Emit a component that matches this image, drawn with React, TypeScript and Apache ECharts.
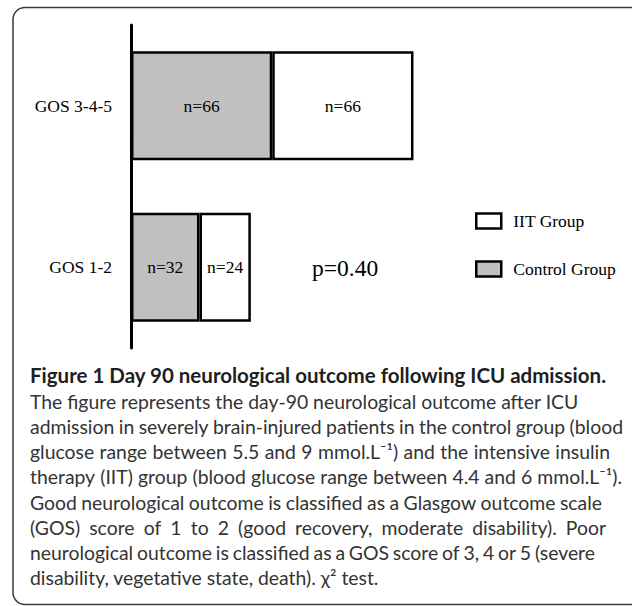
import React, { useEffect, useRef } from 'react';
import * as echarts from 'echarts';

// ---- data ----
const categories = ['GOS 1-2', 'GOS 3-4-5'];
const controlValues = [32, 66];
const iitValues = [24, 66];
const controlName = 'Control Group';
const iitName = 'IIT Group';
const legendOrder = [iitName, controlName];
const pValueText = 'p=0.40';
const captionTitle = 'Figure 1 Day 90 neurological outcome following ICU admission.';
const captionLines = [
  'The figure represents the day-90 neurological outcome after ICU',
  'admission in severely brain-injured patients in the control group (blood',
  'glucose range between 5.5 and 9 mmol.L\u207B\u00B9) and the intensive insulin',
  'therapy (IIT) group (blood glucose range between 4.4 and 6 mmol.L\u207B\u00B9).',
  'Good neurological outcome is classified as a Glasgow outcome scale',
  '(GOS) score of 1 to 2 (good recovery, moderate disability). Poor',
  'neurological outcome is classified as a GOS score of 3, 4 or 5 (severe',
  'disability, vegetative state, death). \u03C7\u00B2 test.',
];

// ---- layout (not data) ----
const SERIF = '"Liberation Serif", "Times New Roman", serif';
const SANS = 'Lato, "Open Sans", sans-serif';
const CAP_X = 30;
const lineRightEnds = [579, 623, 610, 622, 602, 606, 595, 0];
const justified = [false, true, true, true, true, true, true, false];

function buildCaption(): any[] {
  const canvas = document.createElement('canvas');
  const ctx = canvas.getContext('2d')!;
  const measure = (t: string, font: string) => {
    ctx.font = font;
    return ctx.measureText(t).width;
  };
  const titleSize = (16 * 577) / measure(captionTitle, `bold 16px ${SANS}`);
  const bodySize = (16 * 549) / measure(captionLines[0], `16px ${SANS}`);
  const bodyFont = `${bodySize}px ${SANS}`;
  const els: any[] = [];
  els.push({
    type: 'text',
    x: CAP_X,
    y: 375,
    style: {
      text: captionTitle,
      fontSize: titleSize,
      fontFamily: SANS,
      fontWeight: 'bold',
      fill: '#1e1e1e',
      align: 'left',
      verticalAlign: 'middle',
    },
  });
  captionLines.forEach((line, i) => {
    const y = 382 + (i + 1) * 25.2 - 6;
    if (!justified[i]) {
      els.push({
        type: 'text',
        x: CAP_X,
        y,
        style: { text: line, fontSize: bodySize, fontFamily: SANS, fill: '#333', align: 'left', verticalAlign: 'middle' },
      });
      return;
    }
    const words = line.split(' ');
    const widths = words.map((w) => measure(w, bodyFont));
    const total = widths.reduce((a, b) => a + b, 0);
    const gap = (lineRightEnds[i] - CAP_X - total) / (words.length - 1);
    let x = CAP_X;
    words.forEach((w, j) => {
      els.push({
        type: 'text',
        x,
        y,
        style: { text: w, fontSize: bodySize, fontFamily: SANS, fill: '#333', align: 'left', verticalAlign: 'middle' },
      });
      x += widths[j] + gap;
    });
  });
  return els;
}

export default function App() {
  const ref = useRef<HTMLDivElement>(null);
  useEffect(() => {
    if (!ref.current) return;
    const chart = echarts.init(ref.current, undefined, { renderer: 'svg' });
    const labelStyle = {
      show: true,
      position: 'inside',
      formatter: 'n={c}',
      fontSize: 17.5,
      fontFamily: SERIF,
      color: '#000',
      textBorderWidth: 0,
    };
    chart.setOption({
      animation: false,
      backgroundColor: '#fff',
      grid: { left: 131, top: 25, height: 323, width: 428 },
      xAxis: { type: 'value', min: 0, max: 200, show: false },
      yAxis: {
        type: 'category',
        data: categories,
        axisLine: { show: true, lineStyle: { color: '#000', width: 3 } },
        axisTick: { show: false },
        axisLabel: { fontSize: 17.5, fontFamily: SERIF, color: '#000', margin: 19 },
        splitLine: { show: false },
      },
      legend: {
        data: legendOrder,
        orient: 'vertical',
        left: 475,
        top: 212,
        padding: 0,
        itemWidth: 25,
        itemHeight: 15,
        itemGap: 30,
        icon: 'rect',
        selectedMode: false,
        textStyle: { fontSize: 17.5, fontFamily: SERIF, color: '#000', padding: [0, 0, 0, 7] },
        itemStyle: { borderWidth: 2.5, borderColor: '#000' },
      },
      series: [
        {
          name: controlName,
          type: 'bar',
          stack: 'total',
          data: controlValues,
          barWidth: 109,
          itemStyle: { color: '#c0c0c0', borderColor: '#000', borderWidth: 2.5 },
          label: labelStyle,
          emphasis: { disabled: true },
        },
        {
          name: iitName,
          type: 'bar',
          stack: 'total',
          data: iitValues,
          barWidth: 109,
          itemStyle: { color: '#fff', borderColor: '#000', borderWidth: 2.5 },
          label: labelStyle,
          emphasis: { disabled: true },
        },
      ],
      graphic: [
        {
          type: 'rect',
          z: -10,
          shape: { x: 13, y: 7.5, width: 640, height: 597, r: 12 },
          style: { fill: 'none', stroke: '#3a3a3a', lineWidth: 1.5 },
        },
        {
          type: 'text',
          x: 312,
          y: 268,
          style: { text: pValueText, fontSize: 23.5, fontFamily: SERIF, fill: '#000', align: 'left', verticalAlign: 'middle' },
        },
        ...buildCaption(),
      ],
    });
    return () => chart.dispose();
  }, []);
  return <div ref={ref} style={{ position: 'absolute', left: 0, top: 0, width: 632, height: 606 }} />;
}
